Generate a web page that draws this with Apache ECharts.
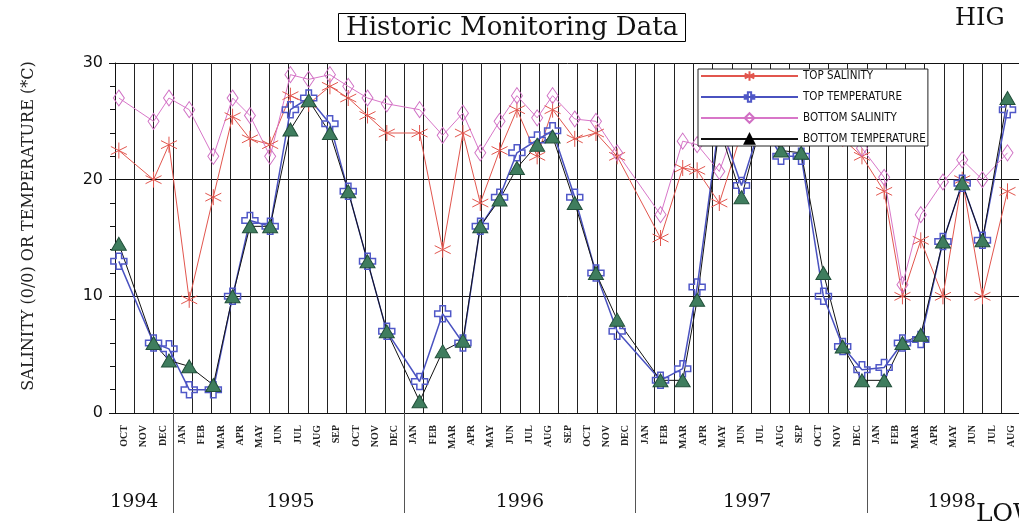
<!DOCTYPE html>
<html>
<head>
<meta charset="utf-8">
<title>Historic Monitoring Data</title>
<script src="https://cdn.jsdelivr.net/npm/echarts@6/dist/echarts.min.js"></script>
<style>
  html, body { margin: 0; padding: 0; background: #fff; }
  #chart { width: 1019px; height: 524px; }
</style>
</head>
<body>
<div id="chart"></div>
<script>
// month categories, OCT 1994 .. AUG 1998
const months = [
  'OCT', 'NOV', 'DEC',
  'JAN', 'FEB', 'MAR', 'APR', 'MAY', 'JUN', 'JUL', 'AUG', 'SEP', 'OCT', 'NOV', 'DEC',
  'JAN', 'FEB', 'MAR', 'APR', 'MAY', 'JUN', 'JUL', 'AUG', 'SEP', 'OCT', 'NOV', 'DEC',
  'JAN', 'FEB', 'MAR', 'APR', 'MAY', 'JUN', 'JUL', 'AUG', 'SEP', 'OCT', 'NOV', 'DEC',
  'JAN', 'FEB', 'MAR', 'APR', 'MAY', 'JUN', 'JUL', 'AUG',
]

// sampling dates, in months since 1 Oct 1994
const sampleMonth = [
  0.2, 2.0, 2.8, 3.85, 5.1, 6.1, 7.0, 8.05, 9.1, 10.05, 11.15, 12.1, 13.1, 14.1,
  15.8, 17.0, 18.05, 18.95, 19.95, 20.85, 21.9, 22.7, 23.85, 24.95, 26.05,
  28.3, 29.45, 30.2, 31.35, 32.5, 33.55, 34.55, 35.6, 36.75, 37.75, 38.75,
  39.9, 40.85, 41.8, 42.95, 43.95, 45.0, 46.3,
]
const topSalinity = [
  22.5, 20, 23, 9.7, 18.5, 25.4, 23.5, 23, 27.2, 26.5, 28, 27, 25.5, 24,
  24, 14, 24, 18, 22.5, 26, 22, 26, 23.5, 24, 22,
  15, 21, 20.8, 18, 24, 25.5, 25, 25, 24, 23.5, 22,
  19, 10, 14.8, 10, 20, 10, 19,
]
const topTemperature = [
  13, 6, 5.5, 2, 2, 10, 16.5, 16, 26, 27, 24.8, 19, 13, 7,
  2.7, 8.5, 6, 16, 18.5, 22.3, 23.4, 24.2, 18.5, 12, 7,
  2.8, 3.8, 10.8, 25, 19.5, 25, 22, 22, 10, 5.7, 3.7,
  3.9, 6, 6.3, 14.7, 19.7, 14.8, 26,
]
const bottomSalinity = [
  27, 25, 27, 26, 22, 27, 25.5, 22, 29, 28.6, 29, 28, 27, 26.5,
  26, 23.8, 25.7, 22.3, 25, 27.2, 25.3, 27.2, 25.2, 25, 22.3,
  17, 23.3, 23, 20.7, 26, 27, 27, 27, 26, 25, 22.7,
  20.2, 11, 17, 19.8, 21.7, 20, 22.3,
]
const bottomTemperature = [
  14.5, 6, 4.5, 4, 2.4, 10, 16, 16, 24.3, 26.8, 24, 19, 13, 7,
  1, 5.3, 6.2, 16, 18.3, 21, 23, 23.7, 18, 12, 8,
  2.8, 2.8, 9.7, 24.5, 18.5, 25, 22.5, 22.3, 12, 5.7, 2.8,
  2.8, 6, 6.7, 14.7, 19.7, 14.8, 27,
]

// year labels and the Dec/Jan breaks (in the same month units)
const years = ['1994', '1995', '1996', '1997', '1998']
const yearLabelAt = [1.0, 9.1, 21.0, 32.8, 43.4]
const yearBreaks = [3, 15, 27, 39]

const STAR = 'path://M5,0V10M0.67,2.5L9.33,7.5M0.67,7.5L9.33,2.5'
const PLUS = 'path://M3.3,0H6.7V3.3H10V6.7H6.7V10H3.3V6.7H0V3.3H3.3Z'

const pts = (vals) => sampleMonth.map((m, i) => [m, vals[i]])
const serif = 'DejaVu Serif'

const chart = echarts.init(document.getElementById('chart'), null, { renderer: 'canvas' })

chart.setOption({
  animation: false,
  backgroundColor: '#fff',
  title: {
    text: 'Historic Monitoring Data',
    left: 338,
    top: 13,
    padding: [2, 8, 1, 8],
    borderColor: '#000',
    borderWidth: 1,
    textStyle: { fontFamily: serif, fontSize: 26, fontWeight: 'normal', color: '#111' },
  },
  legend: {
    orient: 'vertical',
    left: 698,
    top: 69,
    padding: [1, 2, 1, 2],
    itemGap: 9,
    itemWidth: 97,
    itemHeight: 12,
    backgroundColor: '#fff',
    borderColor: '#222',
    borderWidth: 1,
    textStyle: { fontFamily: 'DejaVu Sans Condensed, Liberation Sans Narrow, sans-serif', fontSize: 11.5, color: '#111' },
    data: [
      { name: 'TOP SALINITY' },
      { name: 'TOP TEMPERATURE' },
      { name: 'BOTTOM SALINITY' },
      { name: 'BOTTOM TEMPERATURE', itemStyle: { color: '#000', borderColor: '#000' } },
    ],
  },
  grid: { left: 115, top: 63, width: 906, height: 350, outerBoundsMode: 'none' },
  xAxis: [
    {
      type: 'category',
      position: 'bottom',
      data: months,
      boundaryGap: true,
      axisLine: { lineStyle: { color: '#111', width: 1 } },
      axisTick: { interval: 0, length: 44, lineStyle: { color: '#444' } },
      axisLabel: {
        interval: 0, rotate: 90, margin: 12,
        fontFamily: 'Liberation Serif', fontWeight: 'bold', fontSize: 10, color: '#222',
      },
      splitLine: { show: true, interval: 0, lineStyle: { color: '#222', width: 1 } },
    },
    {
      type: 'value',
      position: 'bottom',
      min: 0,
      max: months.length,
      axisLine: { show: false },
      splitLine: { show: false },
      axisTick: { show: true, customValues: yearBreaks, length: 100, lineStyle: { color: '#555' } },
      axisLabel: {
        customValues: yearLabelAt,
        margin: 80,
        fontFamily: serif, fontSize: 19, color: '#111',
        formatter: (v) => {
          const k = yearLabelAt.findIndex((p) => Math.abs(p - v) < 1e-6)
          return k < 0 ? '' : years[k]
        },
      },
    },
  ],
  yAxis: {
    type: 'value',
    min: 0,
    max: 30,
    interval: 10,
    name: 'SALINITY (0/0) OR TEMPERATURE (*C)',
    nameLocation: 'middle',
    nameGap: 78,
    nameTextStyle: { fontFamily: serif, fontSize: 16, color: '#222', padding: [0, 0, 0, 24] },
    axisLine: { show: true, lineStyle: { color: '#111' } },
    axisTick: { show: true, length: 6, lineStyle: { color: '#111' } },
    minorTick: { show: true, splitNumber: 5, length: 5, lineStyle: { color: '#111' } },
    axisLabel: { margin: 12, fontFamily: 'DejaVu Sans', fontSize: 16, color: '#111' },
    splitLine: { show: true, lineStyle: { color: '#111', width: 1 } },
  },
  graphic: [
    { type: 'text', left: 955, top: 7, style: { text: 'HIG', font: '24px "DejaVu Serif"', fill: '#111' } },
    { type: 'text', left: 976, top: 502, style: { text: 'LOW', font: '25px "DejaVu Serif"', fill: '#111' } },
  ],
  series: [
    {
      name: 'TOP SALINITY',
      type: 'line',
      xAxisIndex: 1,
      data: pts(topSalinity),
      symbol: STAR,
      symbolSize: 16,
      lineStyle: { color: '#e2564e', width: 1 },
      itemStyle: { color: '#e2564e', borderColor: '#e2564e', borderWidth: 1 },
    },
    {
      name: 'TOP TEMPERATURE',
      type: 'line',
      xAxisIndex: 1,
      data: pts(topTemperature),
      symbol: PLUS,
      symbolSize: 16,
      lineStyle: { color: '#4a52c0', width: 1.5 },
      itemStyle: { color: 'rgba(255,255,255,0)', borderColor: '#5058c8', borderWidth: 1.5 },
    },
    {
      name: 'BOTTOM SALINITY',
      type: 'line',
      xAxisIndex: 1,
      data: pts(bottomSalinity),
      symbol: 'diamond',
      symbolSize: [11, 16],
      lineStyle: { color: '#d876c8', width: 1 },
      itemStyle: { color: 'rgba(255,255,255,0)', borderColor: '#d070c4', borderWidth: 1 },
    },
    {
      name: 'BOTTOM TEMPERATURE',
      type: 'line',
      xAxisIndex: 1,
      data: pts(bottomTemperature),
      symbol: 'triangle',
      symbolSize: [15, 13],
      lineStyle: { color: '#111', width: 1 },
      itemStyle: { color: '#3f7d5e', borderColor: '#22503a', borderWidth: 1 },
    },
  ],
})
</script>
</body>
</html>
